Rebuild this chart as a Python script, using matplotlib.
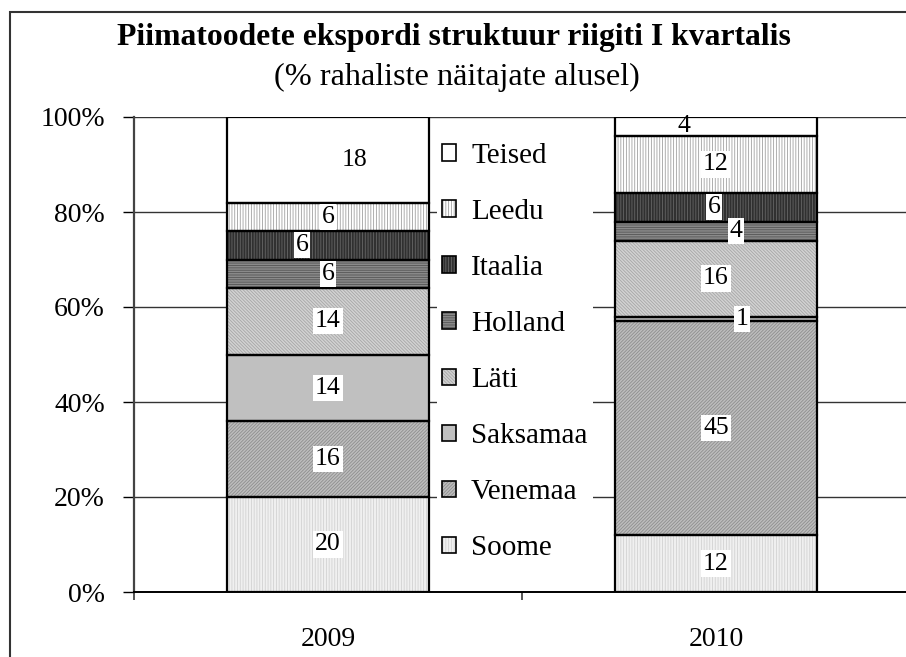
import matplotlib
matplotlib.use("Agg")
import matplotlib.pyplot as plt
from matplotlib.patches import Patch, Rectangle
from matplotlib.legend_handler import HandlerTuple
from matplotlib.ticker import FuncFormatter, FixedLocator

plt.rcParams['font.family'] = ['Liberation Serif', 'DejaVu Serif']
plt.rcParams['hatch.linewidth'] = 0.6

# ---------------- data ----------------
years = ["2009", "2010"]
countries = ["Soome", "Venemaa", "Saksamaa", "Läti", "Holland", "Itaalia", "Leedu", "Teised"]
soome = [20, 12]
venemaa = [16, 45]
saksamaa = [14, 1]
lati = [14, 16]
holland = [6, 4]
itaalia = [6, 6]
leedu = [6, 12]
teised = [18, 4]
series = [soome, venemaa, saksamaa, lati, holland, itaalia, leedu, teised]
yticks = [0, 20, 40, 60, 80, 100]

# ---------------- styles ----------------
styles = {
    "Soome":    dict(face="#f0f0f0", hcol="#d2d2d2", hatch="|" * 6),
    "Venemaa":  dict(face="#bdbdbd", hcol="#8e8e8e", hatch="/" * 10),
    "Saksamaa": dict(face="#c0c0c0", hcol="#c0c0c0", hatch=None),
    "Läti":     dict(face="#d2d2d2", hcol="#a6a6a6", hatch="\\" * 10),
    "Holland":  dict(face="#8a8a8a", hcol="#555555", hatch="-" * 7),
    "Itaalia":  dict(face="#303030", hcol="#666666", hatch="|" * 6),
    "Leedu":    dict(face="#ffffff", hcol="#a0a0a0", hatch="|" * 6),
    "Teised":   dict(face="#ffffff", hcol="#ffffff", hatch=None),
}
# label offsets in pixels (horizontal), per (country, year index)
label_dx = {("Teised", 0): 27, ("Itaalia", 0): -26,
            ("Teised", 1): -32, ("Holland", 1): 20, ("Saksamaa", 1): 26,
            ("Itaalia", 1): -2}

W, H = 906, 657
fig = plt.figure(figsize=(W / 100, H / 100), dpi=100)
ax = fig.add_axes([134 / W, (H - 592) / H, (906 - 134) / W, (592 - 117) / H])

xs = list(range(len(years)))
bw = 0.523
bottoms = [0] * len(years)
handles = []
for name, vals in zip(countries, series):
    st = styles[name]
    ax.bar(xs, vals, bw, bottom=bottoms, color=st["face"], edgecolor=st["hcol"],
           hatch=st["hatch"], linewidth=0, zorder=2)
    ax.bar(xs, vals, bw, bottom=bottoms, fill=False, edgecolor="black",
           linewidth=1.6, zorder=3)
    for i, v in enumerate(vals):
        yc = bottoms[i] + v / 2
        dx = label_dx.get((name, i), 0) * 0.72
        bbox = None if name == "Teised" else dict(facecolor="white", edgecolor="none", pad=1.5)
        ax.annotate(str(v), (xs[i], yc), xytext=(dx, 0), textcoords="offset points",
                    ha="center", va="center", fontsize=18.5, bbox=bbox, zorder=5)
    h = (Patch(facecolor=st["face"], edgecolor=st["hcol"], hatch=st["hatch"], linewidth=0),
         Patch(fill=False, edgecolor="black", linewidth=1.2))
    handles.append((h, name))
    bottoms = [b + v for b, v in zip(bottoms, vals)]

ax.set_xlim(-0.5, -0.5 + (906 - 134) / 388)
ax.set_ylim(0, 100)
ax.set_yticks(yticks)
ax.yaxis.set_major_formatter(FuncFormatter(lambda v, p: f"{int(v)}%"))
ax.set_xticks(xs)
ax.set_xticklabels(years)
ax.xaxis.set_minor_locator(FixedLocator([-0.5, 0.5, 1.5]))
ax.tick_params(axis="x", which="major", length=0, pad=25, labelsize=20)
ax.tick_params(axis="x", which="minor", length=6, width=1.4, color="#555555", direction="out")
ax.tick_params(axis="y", length=8, width=1.0, pad=13, labelsize=20, direction="out")
ax.grid(axis="y", color="#333333", linewidth=1.0, zorder=0)
ax.set_axisbelow(True)
for s in ["top", "right"]:
    ax.spines[s].set_visible(False)
ax.spines["left"].set_color("#444444")
ax.spines["left"].set_linewidth(1.6)
ax.spines["bottom"].set_color("black")
ax.spines["bottom"].set_linewidth(1.4)

hs = [h for h, n in handles][::-1]
ns = [n for h, n in handles][::-1]
leg = ax.legend(hs, ns, handler_map={tuple: HandlerTuple(ndivide=1)},
                loc="center", bbox_to_anchor=(515 / W, 1 - 352 / H),
                bbox_transform=fig.transFigure, fontsize=21, frameon=True,
                facecolor="white", edgecolor="none", framealpha=1, fancybox=False,
                handlelength=0.48, handleheight=0.48, handletextpad=0.5,
                labelspacing=1.03, borderpad=0.2, borderaxespad=0)
leg.set_zorder(6)

fig.text(454 / W, 1 - 38 / H, "Piimatoodete ekspordi struktuur riigiti I kvartalis",
         ha="center", va="center", fontsize=22.8, fontweight="bold")
fig.text(457 / W, 1 - 77 / H, "(% rahaliste näitajate alusel)",
         ha="center", va="center", fontsize=23.2)

fig.patches.append(Rectangle((10 / W, -0.1), 1.2, 0.1 + (H - 12) / H,
                             transform=fig.transFigure, fill=False,
                             edgecolor="#333333", linewidth=1.5))

fig.savefig("out.png", dpi=100)
